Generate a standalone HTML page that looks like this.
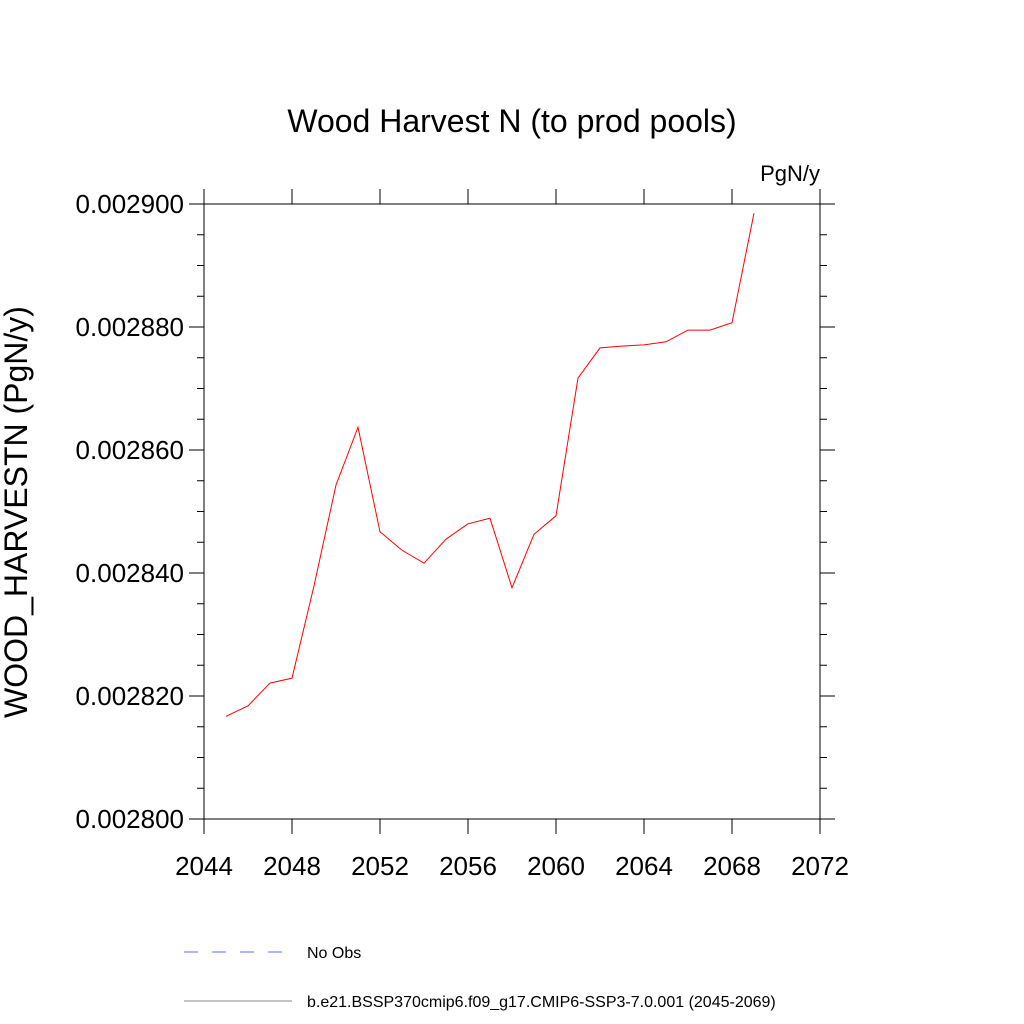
<!DOCTYPE html>
<html><head><meta charset="utf-8"><style>body{margin:0;background:#fff}svg{display:block}text{font-family:"Liberation Sans",sans-serif}</style></head>
<body>
<svg id="chart" width="1024" height="1024" viewBox="0 0 1024 1024">
<text x="512" y="132" font-size="32" text-anchor="middle">Wood Harvest N (to prod pools)</text>
<text x="820" y="181" font-size="22" text-anchor="end">PgN/y</text>
<text transform="translate(27,512) rotate(-90)" font-size="32" text-anchor="middle">WOOD_HARVESTN  (PgN/y)</text>
<rect x="204" y="204" width="616" height="615" fill="none" stroke="#000" stroke-width="1"/>
<g id="ticks"></g>
<g id="labels"></g>
<polyline id="series" fill="none" stroke="#ff0000" stroke-width="1"/>
<line x1="184" y1="952" x2="292" y2="952" stroke="#6666ff" stroke-dasharray="14,14"/>
<text x="307" y="958" font-size="16">No Obs</text>
<line x1="184" y1="1001" x2="292" y2="1001" stroke="#888"/>
<text x="307" y="1007" font-size="16">b.e21.BSSP370cmip6.f09_g17.CMIP6-SSP3-7.0.001 (2045-2069)</text>
</svg>
<script>
const years=[2045,2046,2047,2048,2049,2050,2051,2052,2053,2054,2055,2056,2057,2058,2059,2060,2061,2062,2063,2064,2065,2066,2067,2068,2069];
const values=[0.0028167,0.0028184,0.0028221,0.0028229,0.0028379,0.0028543,0.0028637,0.0028467,0.0028437,0.0028416,0.0028455,0.002848,0.0028489,0.0028376,0.0028463,0.0028493,0.0028717,0.0028766,0.0028769,0.0028771,0.0028776,0.0028795,0.0028795,0.0028807,0.0028985];
const xTicks=[2044,2048,2052,2056,2060,2064,2068,2072];
const yTicks=[0.0028,0.00282,0.00284,0.00286,0.00288,0.0029];
const yTickLabels=["0.002800","0.002820","0.002840","0.002860","0.002880","0.002900"];
const X0=204,X1=820,Y0=819,Y1=204;
const xs=v=>X0+(v-2044)/(2072-2044)*(X1-X0);
const ys=v=>Y0-(v-0.0028)/(0.0029-0.0028)*(Y0-Y1);
const NS="http://www.w3.org/2000/svg";
const tg=document.getElementById('ticks'),lg=document.getElementById('labels');
function ln(x1,y1,x2,y2){const l=document.createElementNS(NS,'line');l.setAttribute('x1',x1);l.setAttribute('y1',y1);l.setAttribute('x2',x2);l.setAttribute('y2',y2);l.setAttribute('stroke','#000');


tg.appendChild(l);}
xTicks.forEach(v=>{const x=xs(v);ln(x,Y0,x,Y0+15);ln(x,Y1,x,Y1-15);
const t=document.createElementNS(NS,'text');t.setAttribute('x',x);t.setAttribute('y',Y0+56);t.setAttribute('font-size','26');t.setAttribute('text-anchor','middle');t.textContent=v;


lg.appendChild(t);});
for(let v=0.0028;v<=0.0029+1e-12;v+=0.000005){const y=ys(v);const major=Math.abs(Math.round(v/0.00002)*0.00002-v)<1e-10;const L=major?15:7;ln(X0-L,y,X0,y);ln(X1,y,X1+L,y);}
yTicks.forEach((v,i)=>{const t=document.createElementNS(NS,'text');t.setAttribute('x',X0-20);t.setAttribute('y',ys(v)+9);t.setAttribute('font-size','26');t.setAttribute('text-anchor','end');t.textContent=yTickLabels[i];


lg.appendChild(t);});
document.getElementById('series').setAttribute('points',years.map((y,i)=>xs(y)+','+ys(values[i])).join(' '));
</script>
</body></html>
